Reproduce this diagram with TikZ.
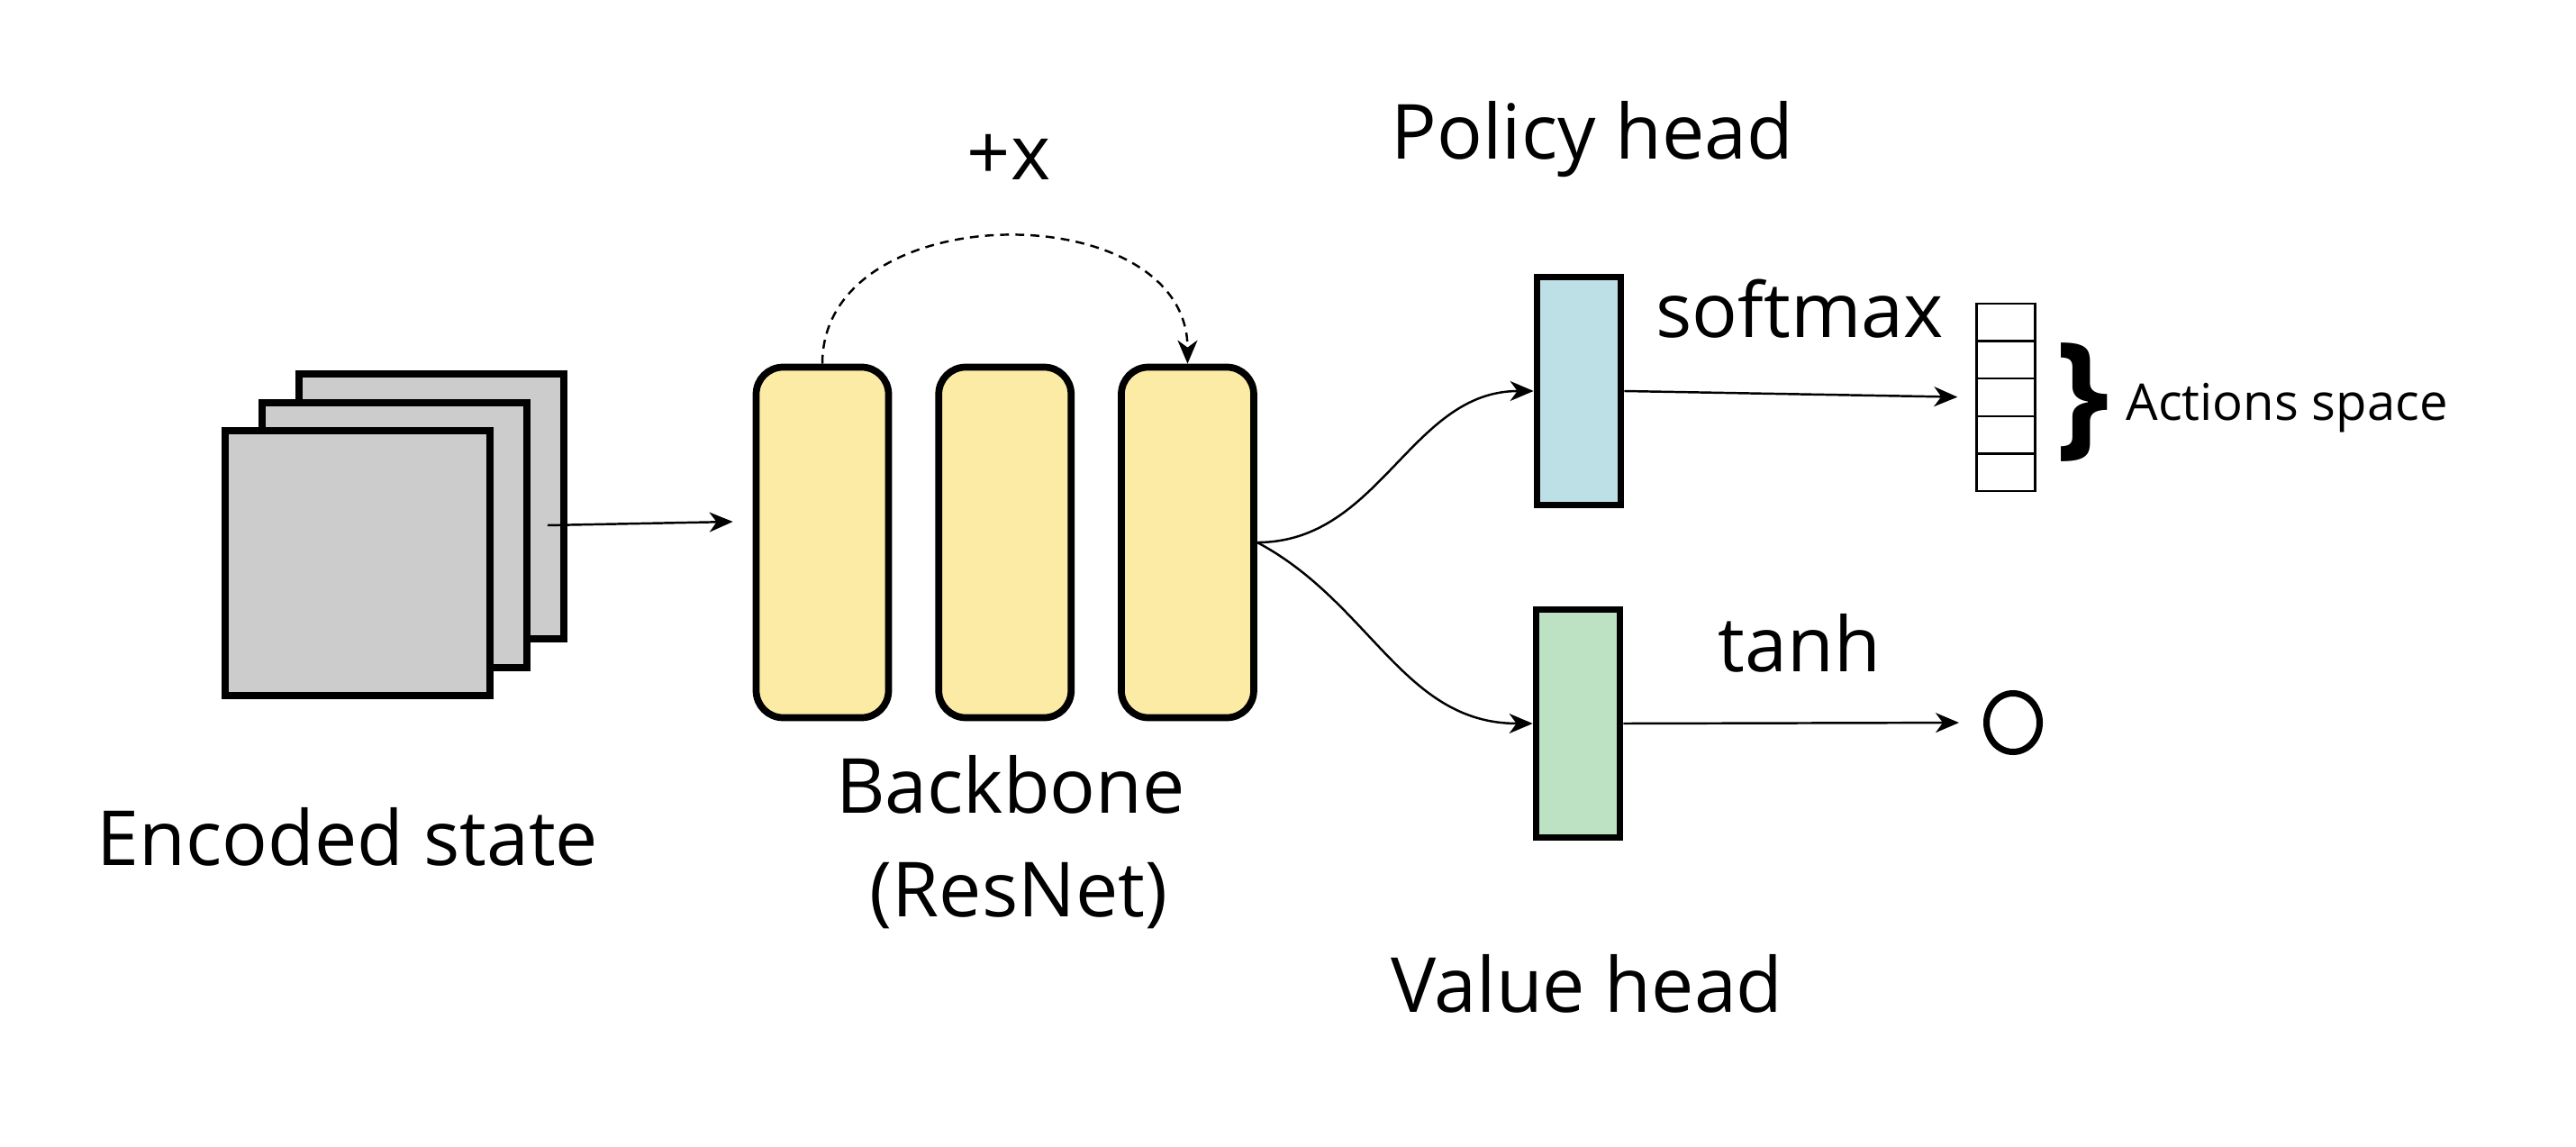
\documentclass[tikz,border=0pt]{standalone}
\usepackage{fontspec}
\setmainfont{Open Sans}
\usetikzlibrary{arrows.meta,positioning,shapes.geometric}
\definecolor{stategray}{HTML}{CCCCCC}
\definecolor{blockyellow}{HTML}{FCEBA4}
\definecolor{policyblue}{HTML}{BCE0E6}
\definecolor{valuegreen}{HTML}{BCE2C3}

\begin{document}
\begin{tikzpicture}[font=\fontsize{24}{32}\selectfont,
	plane/.style={draw=black,line width=2.2pt,fill=stategray,minimum width=2.94cm,minimum height=2.94cm,inner sep=0pt},
	block/.style={draw=black,line width=2.2pt,fill=blockyellow,rounded corners=0.3cm,minimum width=1.47cm,minimum height=3.89cm,inner sep=0pt},
	head/.style={draw=black,line width=2.2pt,minimum width=0.93cm,minimum height=2.53cm,inner sep=0pt},
	cell/.style={draw=black,line width=0.7pt,minimum width=0.65cm,minimum height=0.416cm,inner sep=0pt},
	arr/.style={-{Stealth[length=0.26cm,width=0.22cm,inset=0.08cm]},line width=0.7pt},
	lbl/.style={anchor=base,inner sep=0pt}]
					
					\useasboundingbox (0,0) rectangle (28.6,12.72);
					
					% encoded state
					\node[plane] (back) at (4.79,7.10) {};
					\node[plane] (mid) at (4.38,6.78) {};
					\node[plane] (front) at (3.97,6.47) {};
					\node[lbl] (encoded) at (3.86,3.12) {Encoded state};
					
					% backbone
					\node[block] (b1) at (9.13,6.70) {};
					\node[block,right=0.48cm of b1] (b2) {};
					\node[block,right=0.48cm of b2] (b3) {};
					\node[lbl] (backbone) at (11.22,3.70) {Backbone};
					\node[lbl] (resnet) at (11.31,2.55) {(ResNet)};
					
					\draw[arr] ([xshift=1.9mm,yshift=1.1mm]mid.east) -- ([xshift=-2.2mm,yshift=2.3mm]b1.west);
					
					% skip connection
					\draw[arr,dash pattern=on 2.8pt off 2pt] (b1.north) .. controls ([yshift=1.88cm]b1.north) and ([yshift=1.88cm]b3.north) .. (b3.north);
					\node[lbl] (plusx) at (11.20,10.72) {+x};
					
					% heads
					\node[head,fill=policyblue] (policy) at (17.53,8.38) {};
					\node[head,fill=valuegreen] (value) at (17.52,4.69) {};
					\node[lbl] (policylbl) at (17.68,10.95) {Policy head};
					\node[lbl] (valuelbl) at (17.62,1.49) {Value head};
					
					\draw[arr] (b3.east) to[out=0,in=180] (policy.west);
					\draw[arr] (b3.east) to[out=-28,in=180] (value.west);
					
					% action vector
					\foreach \i in {1,...,5}
						\node[cell] (cell\i) at (22.27,{8.31+(3-\i)*0.416}) {};
					\node[inner sep=0pt,font=\bfseries\fontsize{43}{43}\selectfont] (brace) at (23.12,8.25) {\}};
					\node[lbl,font=\fontsize{16}{19}\selectfont] (actions) at (25.39,8.06) {Actions space};
					
					\draw[arr,shorten >=0.2cm] (policy.east) -- (cell3.west);
					\node[lbl] (softmax) at (19.98,8.97) {softmax};
					
					% scalar value
					\node[draw,ellipse,line width=2pt,minimum width=0.59cm,minimum height=0.65cm,inner sep=0pt] (scalar) at (22.35,4.70) {};
					\draw[arr,shorten >=0.27cm] (value.east) -- (scalar.west);
					\node[lbl] (tanh) at (19.98,5.27) {tanh};
					
				\end{tikzpicture}
\end{document}
